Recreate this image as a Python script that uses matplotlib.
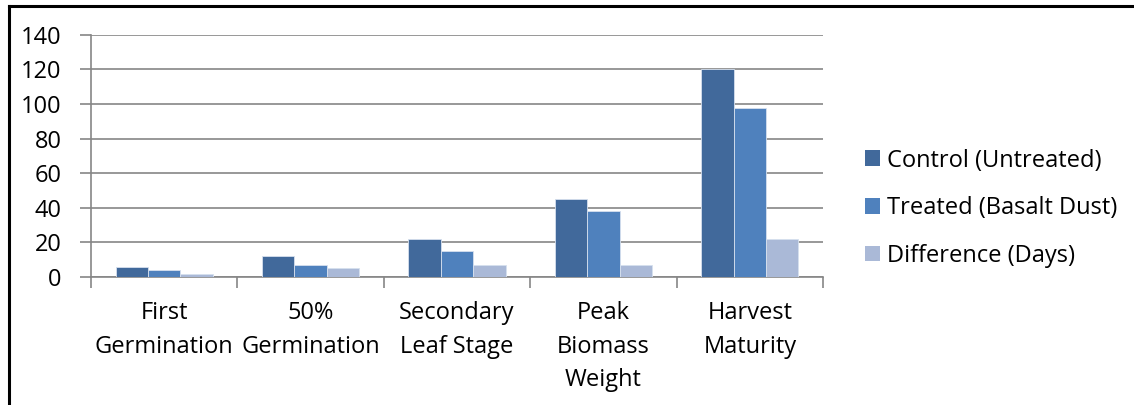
import numpy as np
import matplotlib.pyplot as plt
from matplotlib.lines import Line2D
from matplotlib.patches import Patch

# growth stages and days for each series
stages = ["First\nGermination", "50%\nGermination", "Secondary\nLeaf Stage",
          "Peak\nBiomass\nWeight", "Harvest\nMaturity"]
control = [6, 12, 22, 45, 120]
treated = [4, 7, 15, 38, 98]
difference = [2, 5, 7, 7, 22]
series_names = ["Control (Untreated)", "Treated (Basalt Dust)", "Difference (Days)"]
colors = ["#41699B", "#4F81BD", "#AAB9D7"]

plt.rcParams['font.family'] = ['Open Sans', 'DejaVu Sans']
FS = 17

fig = plt.figure(figsize=(11.34, 4.05), dpi=100)
ax = fig.add_axes([0.0802, 0.316, 0.6456, 0.5978])

x = np.arange(len(stages))
w = 0.221
for i, (vals, c) in enumerate(zip([control, treated, difference], colors)):
    ax.bar(x + (i - 1) * w, vals, width=w, color=c, edgecolor="#D6E0EE",
           linewidth=0.6, zorder=3, label=series_names[i])

ax.set_xlim(-0.5, len(stages) - 0.5)
ax.set_ylim(0, 140)
ax.set_yticks(range(0, 141, 20))
ax.yaxis.grid(True, color="#868686", linewidth=1.2, zorder=0)
ax.set_axisbelow(True)

# category ticks sit between groups
ax.set_xticks(np.arange(-0.5, len(stages), 1.0))
ax.set_xticklabels([])
ax.set_xticks(x, minor=True)
ax.set_xticklabels(stages, minor=True, fontsize=FS, linespacing=1.55)
ax.tick_params(axis='x', which='minor', length=0, pad=17)
ax.tick_params(axis='x', which='major', length=8, color="#868686", width=1.2)
ax.tick_params(axis='y', length=8, color="#868686", width=1.2, labelsize=FS, pad=13)

for s in ["top", "right"]:
    ax.spines[s].set_visible(False)
for s in ["left", "bottom"]:
    ax.spines[s].set_color("#868686")
    ax.spines[s].set_linewidth(1.2)

handles = [Patch(facecolor=c, edgecolor="none") for c in colors]
fig.legend(handles, series_names, loc="center left", bbox_to_anchor=(0.7628, 0.486),
           frameon=False, fontsize=FS, handlelength=0.64, handleheight=0.64,
           handletextpad=0.3, labelspacing=1.0, borderpad=0, borderaxespad=0)

# outer frame (left and top edges)
fig.add_artist(Line2D([0.0079, 0.0079], [0, 0.986], color="black", linewidth=2.2,
                      transform=fig.transFigure, solid_capstyle="projecting"))
fig.add_artist(Line2D([0.0079, 1.0], [0.985, 0.985], color="black", linewidth=2.2,
                      transform=fig.transFigure))

fig.savefig("out.png", dpi=100)
